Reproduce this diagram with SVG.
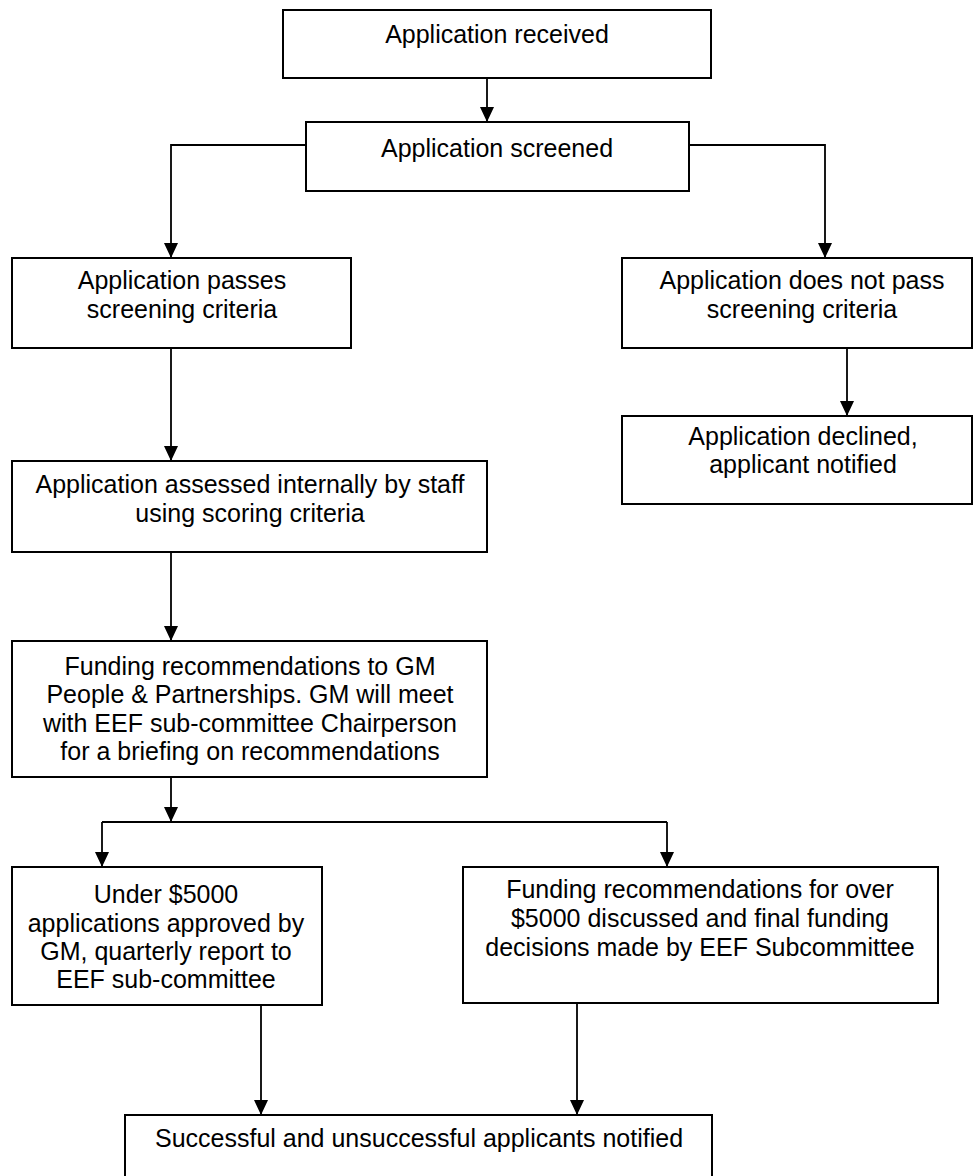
<svg xmlns="http://www.w3.org/2000/svg" width="974" height="1176" viewBox="0 0 974 1176">
<defs>
<marker id="arr" markerWidth="15" markerHeight="14" refX="15" refY="7" orient="auto" markerUnits="userSpaceOnUse" viewBox="0 0 15 14">
<path d="M0,0 L15,7 L0,14 z" fill="#000"/>
</marker>
<style>
.box{fill:#fff;stroke:#000;stroke-width:2}
.t{font-family:"Liberation Sans",Arial,sans-serif;font-size:25px;fill:#000;text-anchor:middle}
.c{fill:none;stroke:#000;stroke-width:1.8}
</style>
</defs>
<rect width="974" height="1176" fill="#fff"/>
<g id="connectors">
<path class="c" d="M487,78 V122" marker-end="url(#arr)"/>
<path class="c" d="M306,145 H171 V258" marker-end="url(#arr)"/>
<path class="c" d="M689,145 H825 V258" marker-end="url(#arr)"/>
<path class="c" d="M847,348 V416" marker-end="url(#arr)"/>
<path class="c" d="M171,348 V461" marker-end="url(#arr)"/>
<path class="c" d="M171,552 V641" marker-end="url(#arr)"/>
<path class="c" d="M171,777 V822" marker-end="url(#arr)"/>
<path class="c" d="M102,822 H667"/>
<path class="c" d="M102,822 V867" marker-end="url(#arr)"/>
<path class="c" d="M667,822 V867" marker-end="url(#arr)"/>
<path class="c" d="M261,1005 V1115" marker-end="url(#arr)"/>
<path class="c" d="M577,1003 V1115" marker-end="url(#arr)"/>
</g>
<g id="n1"><rect class="box" x="283" y="10" width="428" height="68"/><text class="t" x="497" y="43">Application received</text></g>
<g id="n2"><rect class="box" x="306" y="122" width="383" height="69"/><text class="t" x="497" y="157">Application screened</text></g>
<g id="n3"><rect class="box" x="12" y="258" width="339" height="90"/><text class="t" x="182" y="289">Application passes</text><text class="t" x="182" y="318">screening criteria</text></g>
<g id="n4"><rect class="box" x="622" y="258" width="350" height="90"/><text class="t" x="802" y="289">Application does not pass</text><text class="t" x="802" y="318">screening criteria</text></g>
<g id="n5"><rect class="box" x="622" y="416" width="350" height="88"/><text class="t" x="803" y="445">Application declined,</text><text class="t" x="803" y="473">applicant notified</text></g>
<g id="n6"><rect class="box" x="12" y="461" width="475" height="91"/><text class="t" x="250" y="493">Application assessed internally by staff</text><text class="t" x="250" y="522">using scoring criteria</text></g>
<g id="n7"><rect class="box" x="12" y="641" width="475" height="136"/><text class="t" x="250" y="675">Funding recommendations to GM</text><text class="t" x="250" y="703">People &amp; Partnerships. GM will meet</text><text class="t" x="250" y="732">with EEF sub-committee Chairperson</text><text class="t" x="250" y="760">for a briefing on recommendations</text></g>
<g id="n8"><rect class="box" x="12" y="867" width="310" height="138"/><text class="t" x="166" y="903">Under $5000</text><text class="t" x="166" y="932">applications approved by</text><text class="t" x="166" y="960">GM, quarterly report to</text><text class="t" x="166" y="988">EEF sub-committee</text></g>
<g id="n9"><rect class="box" x="463" y="867" width="475" height="136"/><text class="t" x="700" y="898">Funding recommendations for over</text><text class="t" x="700" y="927">$5000 discussed and final funding</text><text class="t" x="700" y="956">decisions made by EEF Subcommittee</text></g>
<g id="n10"><rect class="box" x="125" y="1115" width="587" height="70"/><text class="t" x="419" y="1147">Successful and unsuccessful applicants notified</text></g>
</svg>
